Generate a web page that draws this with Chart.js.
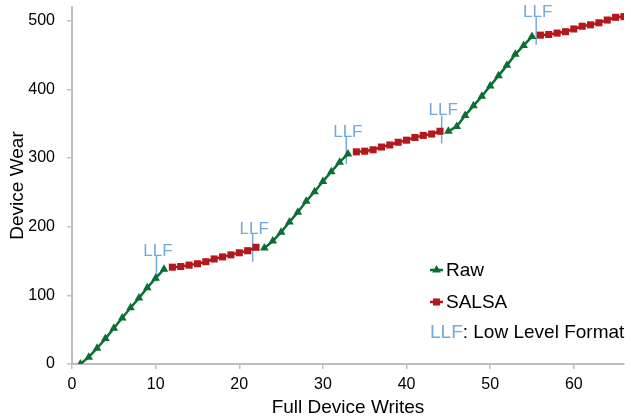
<!DOCTYPE html>
<html>
<head>
<meta charset="utf-8">
<script src="https://cdn.jsdelivr.net/npm/chart.js@4/dist/chart.umd.min.js"></script>
<style>
  html, body { margin: 0; padding: 0; background: #ffffff; }
  #wrap { width: 631px; height: 419px; }
</style>
</head>
<body>
<div id="wrap"><canvas id="chart" width="631" height="419"></canvas></div>
<script>
// Device wear per full device write: raw writes vs. SALSA, with low level formats
const rawStart = [1, 23, 45];
const rawWear = [
  [0, 10, 23, 37, 52, 67, 82, 96, 111, 125, 138],
  [169, 179, 192, 207, 221, 237, 251, 266, 280, 294, 306],
  [339, 346, 362, 376, 390, 405, 420, 435, 451, 464, 477]
];
const salsaStart = [12, 34, 56];
const salsaWear = [
  [141, 142, 144, 146, 149, 153, 156, 159, 162, 165, 170],
  [309, 310, 312, 316, 319, 323, 326, 330, 333, 335, 339],
  [479, 480, 482, 484, 488, 492, 494, 497, 501, 505, 506]
];
// Low level format events: write position and the wear span of the marker
const llfWrites = [10.1, 21.6, 32.8, 44.2, 55.5];
const llfLow = [120, 149, 291, 321, 465];
const llfHigh = [158, 190, 331, 362, 505];

const xTicks = [0, 10, 20, 30, 40, 50, 60];
const yTicks = [0, 100, 200, 300, 400, 500];

const GREEN = '#0a6f34';
const RED = '#b3181d';
const BLUE = '#74a9dc';
const AXIS = '#bfbfbf';
const FONT = "'Liberation Sans', Arial, sans-serif";

// join segments, with a gap point between consecutive runs
function segments(starts, values) {
  const pts = [];
  starts.forEach((s, k) => {
    if (k > 0) pts.push({ x: s - 0.5, y: null });
    values[k].forEach((v, i) => pts.push({ x: s + i, y: v }));
  });
  return pts;
}

function llfPoints() {
  const pts = [];
  llfWrites.forEach((w, i) => {
    if (i > 0) pts.push({ x: w, y: null });
    pts.push({ x: w, y: llfLow[i] });
    pts.push({ x: w, y: llfHigh[i] });
  });
  return pts;
}

const llfLabels = {
  id: 'llfLabels',
  afterDatasetsDraw(chart) {
    const { ctx, scales: { x, y } } = chart;
    ctx.save();
    ctx.font = '17px ' + FONT;
    ctx.fillStyle = BLUE;
    ctx.textAlign = 'center';
    ctx.textBaseline = 'alphabetic';
    llfWrites.forEach((w, i) => {
      ctx.fillText('LLF', x.getPixelForValue(w) + 1.5, y.getPixelForValue(llfHigh[i]));
    });
    ctx.restore();
  }
};

const keyBox = {
  id: 'keyBox',
  afterDraw(chart) {
    const { ctx, chartArea } = chart;
    const left = chartArea.right - 194;
    const rows = [
      { color: GREEN, style: 'triangle', radius: 5, text: 'Raw', y: 270 },
      { color: RED, style: 'rect', radius: 5, text: 'SALSA', y: 302 }
    ];
    ctx.save();
    ctx.font = '19px ' + FONT;
    ctx.textBaseline = 'middle';
    ctx.textAlign = 'left';
    rows.forEach(r => {
      ctx.strokeStyle = r.color;
      ctx.lineWidth = 2.5;
      ctx.beginPath();
      ctx.moveTo(left, r.y);
      ctx.lineTo(left + 13, r.y);
      ctx.stroke();
      ctx.fillStyle = r.color;
      Chart.helpers.drawPoint(ctx, { pointStyle: r.style, radius: r.radius, rotation: 0, borderWidth: 0 }, left + 6.5, r.y);
      ctx.fillStyle = '#000000';
      ctx.fillText(r.text, left + 16, r.y + 1);
    });
    const ly = 333;
    ctx.fillStyle = BLUE;
    ctx.fillText('LLF', left, ly);
    const w = ctx.measureText('LLF').width;
    ctx.fillStyle = '#000000';
    ctx.fillText(': Low Level Format', left + w, ly);
    ctx.restore();
  }
};

new Chart(document.getElementById('chart'), {
  type: 'line',
  data: {
    datasets: [
      {
        label: 'Raw',
        data: segments(rawStart, rawWear),
        borderColor: GREEN,
        backgroundColor: GREEN,
        borderWidth: 2.5,
        pointStyle: 'triangle',
        pointRadius: 5,
        pointBorderWidth: 0,
        pointBackgroundColor: GREEN,
        spanGaps: false,
        tension: 0
      },
      {
        label: 'SALSA',
        data: segments(salsaStart, salsaWear),
        borderColor: RED,
        backgroundColor: RED,
        borderWidth: 2.5,
        pointStyle: 'rect',
        pointRadius: 5,
        pointBorderWidth: 0,
        pointBackgroundColor: RED,
        spanGaps: false,
        tension: 0
      },
      {
        label: 'LLF',
        data: llfPoints(),
        borderColor: BLUE,
        borderWidth: 1.5,
        pointRadius: 0,
        spanGaps: false,
        tension: 0
      }
    ]
  },
  options: {
    responsive: false,
    animation: false,
    layout: { padding: { left: 0, top: 7, right: 7, bottom: 0 } },
    plugins: {
      legend: { display: false },
      tooltip: { enabled: false }
    },
    scales: {
      x: {
        type: 'linear',
        min: 0,
        max: 66,
        afterBuildTicks(scale) { scale.ticks = xTicks.map(v => ({ value: v })); },
        afterFit(scale) {
          scale.height = 55;
          scale.paddingLeft = 0;
          scale.paddingRight = 0;
        },
        ticks: {
          color: '#000000',
          font: { family: FONT, size: 16 },
          padding: 6,
          maxRotation: 0
        },
        grid: { drawOnChartArea: false, drawTicks: true, tickLength: 5, color: AXIS, lineWidth: 1.5 },
        border: { color: AXIS, width: 2 },
        title: {
          display: true,
          text: 'Full Device Writes',
          color: '#000000',
          font: { family: FONT, size: 19 },
          padding: { top: 0, bottom: 0 }
        }
      },
      y: {
        type: 'linear',
        min: 0,
        max: 520,
        afterBuildTicks(scale) { scale.ticks = yTicks.map(v => ({ value: v })); },
        afterFit(scale) {
          scale.width = 72;
          scale.paddingTop = 0;
          scale.paddingBottom = 0;
        },
        ticks: {
          color: '#000000',
          font: { family: FONT, size: 16 },
          padding: 12
        },
        grid: { drawOnChartArea: false, drawTicks: true, tickLength: 5, color: AXIS, lineWidth: 1.5 },
        border: { color: AXIS, width: 2 },
        title: {
          display: true,
          text: 'Device Wear',
          color: '#000000',
          font: { family: FONT, size: 19 },
          padding: { top: 6, bottom: 0 }
        }
      }
    }
  },
  plugins: [llfLabels, keyBox]
});
</script>
</body>
</html>
